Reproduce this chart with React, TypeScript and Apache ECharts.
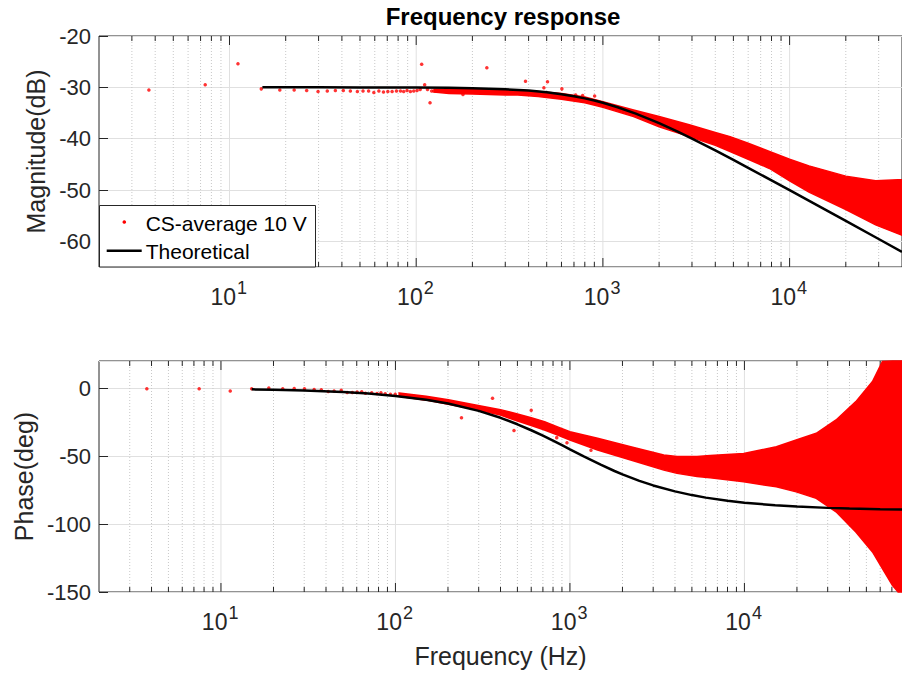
import React, { useEffect, useRef } from "react";
import * as echarts from "echarts";

const FONT = "'Liberation Sans', Arial, Helvetica, sans-serif";
const AXIS_COLOR = "#262626";
const RED = "#ff0000";
const MAJOR_GRID = "#e0e0e0";
const MINOR_GRID = "#c8c8c8";

// ---------- Magnitude (dB) ----------
const magMeasuredPoints: [number, number][] = [
  [3.7, -30.5], [7.41, -29.5], [11.1, -25.4], [14.8, -30.3], [18.6, -30.5],
  [22.2, -30.5], [25.9, -30.6], [29.8, -30.8], [33.4, -30.7], [36.9, -30.6],
  [40.7, -30.6], [44.4, -30.7], [48.4, -30.8], [51.9, -30.7], [55.6, -30.7],
  [59.3, -31.0], [63.1, -30.7], [66.8, -30.9], [70.5, -30.8], [74.3, -30.8],
  [78.4, -30.7], [82.4, -30.7], [85.7, -30.8], [89.3, -30.6], [93.1, -30.8],
  [97, -30.7], [101, -30.6], [105, -30.4], [107, -25.5], [111, -29.5],
  [115, -30.4], [118.6, -33.0], [121, -30.7], [124, -30.7], [127, -30.7],
  [178, -31.4], [239, -26.2], [385, -28.8], [483, -30.1], [505, -28.9],
  [603, -30.3], [715, -31.5], [779, -31.6], [903, -31.7],
];
const magBandFreq = [125, 150, 200, 300, 350, 450, 600, 800, 1000, 1460, 2000, 2900, 4000, 4800, 6000, 7800, 10000, 12700, 20000, 28900, 38000, 40000];
const magBandUpper = [-30.4, -30.4, -30.4, -30.5, -30.5, -30.8, -31.2, -31.9, -32.8, -34.4, -35.7, -37.3, -38.8, -39.6, -40.9, -42.5, -44.0, -45.3, -47.3, -48.2, -48.0, -48.0];
const magBandLower = [-30.9, -31.2, -31.3, -31.5, -31.5, -31.8, -32.3, -33.0, -33.9, -35.7, -37.7, -39.6, -41.3, -42.5, -44.0, -45.8, -48.2, -50.4, -53.8, -56.8, -58.5, -58.8];

// ---------- Phase (deg) ----------
const phaseMeasuredPoints: [number, number][] = [
  [3.76, -0.5], [7.5, -0.5], [11.3, -2.0], [15.0, -0.5], [18.8, 0.2],
  [22.6, -0.5], [26.3, -0.2], [30.1, -0.5], [34.2, -0.9], [37.6, -1.2],
  [41.2, -2.4], [44.5, -2.0], [48.9, -1.6], [52.9, -3.2], [56.6, -3.2],
  [60.3, -2.9], [64.1, -2.7], [67.3, -3.7], [73.1, -3.4], [78.4, -3.9],
  [82.6, -3.4], [87.4, -4.2], [93.6, -4.4], [99.7, -4.4], [239, -21.7],
  [360, -7.4], [478, -31.2], [600, -16.2], [840, -36.4], [962, -40.1],
  [1320, -45.7],
];
const phaseBandFreq = [105, 150, 201, 298, 400, 482, 600, 715, 850, 1000, 1440, 2230, 3450, 4110, 5350, 6360, 9900, 15240, 19800, 25800, 33500, 43500, 54200, 61800, 70500, 76000, 80000];
const phaseBandUpper = [-3.5, -6.0, -8.6, -12.8, -15.8, -18.4, -21.8, -24.6, -28.5, -32.0, -36.9, -43.1, -49.2, -50.3, -50.2, -49.6, -48.0, -43.1, -38.1, -33.2, -23.4, -9.9, 4.9, 19.6, 20, 20, 20];
const phaseBandLower = [-6.0, -8.8, -11.8, -16.0, -19.8, -23.4, -27.5, -30.8, -34.5, -38.1, -45.5, -52.9, -60.3, -62.7, -65.0, -65.9, -68.9, -72.6, -76.3, -81.1, -91.0, -105.8, -120.5, -132.8, -145, -150, -150];

// ---------- Theoretical ----------
const theoryFreq = [15, 20, 30, 50, 70, 100, 150, 200, 300, 400, 500, 600, 700, 800, 900, 1000, 1200, 1500, 1800, 2000, 2500, 3000, 4000, 5000, 6000, 8000, 10000, 15000, 20000, 30000, 40000, 60000, 80000];
const theoryMag = [-30.0, -30.0, -30.0, -30.01, -30.02, -30.04, -30.1, -30.17, -30.38, -30.64, -30.97, -31.34, -31.74, -32.15, -32.57, -33.01, -33.87, -35.12, -36.28, -36.99, -38.6, -40.0, -42.3, -44.15, -45.68, -48.13, -50.04, -53.53, -56.03, -59.55, -62.04];
const theoryPhase = [-0.86, -1.15, -1.72, -2.86, -4.0, -5.71, -8.53, -11.31, -16.7, -21.8, -26.57, -30.96, -34.99, -38.66, -41.99, -45.0, -50.19, -56.31, -60.95, -63.43, -68.2, -71.57, -75.96, -78.69, -80.54, -82.87, -84.29, -86.19, -87.14, -88.09, -88.57, -89.05, -89.28];

// ---------- Axes ticks ----------
const xMajorTicks = [10, 100, 1000, 10000];
const xMajorExponents = ["1", "2", "3", "4"];
const xDecades = [1, 10, 100, 1000, 10000];
const xMinorMultipliers = [2, 3, 4, 5, 6, 7, 8, 9];
const xMin = 2;
const magXMax = 40000;
const phaseXMax = 80000;

function decorSeries(idx: number, xMax: number, yMin: number, yMax: number) {
  return {
    type: "custom",
    xAxisIndex: idx,
    yAxisIndex: idx,
    z: 1,
    silent: true,
    data: [0],
    renderItem: (params: any, api: any) => {
      const children: any[] = [];
      const minor: number[] = [];
      xDecades.forEach((d) =>
        xMinorMultipliers.forEach((m) => {
          const f = d * m;
          if (f > xMin && f < xMax) minor.push(f);
        })
      );
      minor.forEach((f) => {
        const t = api.coord([f, yMax]);
        const b = api.coord([f, yMin]);
        children.push({
          type: "line",
          shape: { x1: t[0], y1: t[1], x2: b[0], y2: b[1] },
          style: { stroke: MINOR_GRID, lineWidth: 1, lineDash: [1, 2] },
        });
        children.push({
          type: "line",
          shape: { x1: b[0], y1: b[1], x2: b[0], y2: b[1] - 5 },
          style: { stroke: AXIS_COLOR, lineWidth: 1 },
        });
        children.push({
          type: "line",
          shape: { x1: t[0], y1: t[1], x2: t[0], y2: t[1] + 5 },
          style: { stroke: AXIS_COLOR, lineWidth: 1 },
        });
      });
      xMajorTicks.forEach((f, i) => {
        if (f <= xMin || f >= xMax) return;
        const t = api.coord([f, yMax]);
        const b = api.coord([f, yMin]);
        children.push({
          type: "line",
          shape: { x1: t[0], y1: t[1], x2: b[0], y2: b[1] },
          style: { stroke: MAJOR_GRID, lineWidth: 1 },
        });
        children.push({
          type: "line",
          shape: { x1: b[0], y1: b[1], x2: b[0], y2: b[1] - 9 },
          style: { stroke: AXIS_COLOR, lineWidth: 1 },
        });
        children.push({
          type: "line",
          shape: { x1: t[0], y1: t[1], x2: t[0], y2: t[1] + 9 },
          style: { stroke: AXIS_COLOR, lineWidth: 1 },
        });
        children.push({
          type: "text",
          x: b[0] + 6.5,
          y: b[1] + 30,
          style: {
            text: "10",
            fontSize: 23,
            fontFamily: FONT,
            fill: AXIS_COLOR,
            align: "right",
            verticalAlign: "middle",
          },
        });
        children.push({
          type: "text",
          x: b[0] + 7.5,
          y: b[1] + 21,
          style: {
            text: xMajorExponents[i],
            fontSize: 18,
            fontFamily: FONT,
            fill: AXIS_COLOR,
            align: "left",
            verticalAlign: "middle",
          },
        });
      });
      return { type: "group", children };
    },
  };
}

function bandSeries(idx: number, freq: number[], upper: number[], lower: number[]) {
  return {
    type: "custom",
    xAxisIndex: idx,
    yAxisIndex: idx,
    z: 2,
    silent: true,
    data: freq.map((f, i) => [f, upper[i], lower[i]]),
    renderItem: (params: any, api: any) => {
      if (params.dataIndex !== 0) return null;
      const pts: number[][] = [];
      for (let i = 0; i < freq.length; i++) pts.push(api.coord([freq[i], upper[i]]));
      for (let i = freq.length - 1; i >= 0; i--) pts.push(api.coord([freq[i], lower[i]]));
      return {
        type: "polygon",
        shape: { points: pts },
        style: { fill: RED, stroke: RED, lineWidth: 1.5 },
      };
    },
  };
}

export default function App() {
  const ref = useRef<HTMLDivElement>(null);

  useEffect(() => {
    if (!ref.current) return;
    const chart = echarts.init(ref.current, undefined, { renderer: "svg" });

    const yLabel = { fontSize: 22, color: AXIS_COLOR, fontFamily: FONT, margin: 8 };
    const yName = { fontSize: 25, color: AXIS_COLOR, fontFamily: FONT };

    chart.setOption({
      animation: false,
      backgroundColor: "#ffffff",
      title: {
        text: "Frequency response",
        left: 503,
        top: 4,
        textAlign: "center",
        padding: 0,
        textStyle: { fontSize: 24, fontWeight: "bold", color: "#000", fontFamily: FONT },
      },
      grid: [
        { left: 99, top: 36, width: 807, height: 231, show: true, borderColor: AXIS_COLOR, borderWidth: 1, backgroundColor: "#fff" },
        { left: 99, top: 361, width: 807, height: 231, show: true, borderColor: AXIS_COLOR, borderWidth: 1, backgroundColor: "#fff" },
      ],
      xAxis: [
        {
          gridIndex: 0, type: "log", logBase: 10, min: xMin, max: magXMax,
          axisLine: { show: false }, axisTick: { show: false }, axisLabel: { show: false }, splitLine: { show: false },
        },
        {
          gridIndex: 1, type: "log", logBase: 10, min: xMin, max: phaseXMax,
          axisLine: { show: false }, axisTick: { show: false }, axisLabel: { show: false }, splitLine: { show: false },
          name: "Frequency (Hz)", nameLocation: "middle", nameGap: 51,
          nameTextStyle: { fontSize: 25, color: AXIS_COLOR, fontFamily: FONT },
        },
      ],
      yAxis: [
        {
          gridIndex: 0, type: "value", min: -65, max: -20, splitNumber: 5,
          axisLine: { show: false },
          axisTick: { show: true, inside: true, length: 9, lineStyle: { color: AXIS_COLOR } },
          axisLabel: { ...yLabel, showMinLabel: false },
          splitLine: { show: true, lineStyle: { color: MAJOR_GRID, width: 1 } },
          name: "Magnitude(dB)", nameLocation: "middle", nameGap: 47, nameTextStyle: yName,
        },
        {
          gridIndex: 1, type: "value", min: -150, max: 20, interval: 50,
          axisLine: { show: false },
          axisTick: { show: true, inside: true, length: 9, lineStyle: { color: AXIS_COLOR } },
          axisLabel: { ...yLabel, showMaxLabel: false },
          splitLine: { show: true, lineStyle: { color: MAJOR_GRID, width: 1 } },
          name: "Phase(deg)", nameLocation: "middle", nameGap: 60, nameTextStyle: yName,
        },
      ],
      series: [
        decorSeries(0, magXMax, -65, -20),
        decorSeries(1, phaseXMax, -150, 20),
        bandSeries(0, magBandFreq, magBandUpper, magBandLower),
        bandSeries(1, phaseBandFreq, phaseBandUpper, phaseBandLower),
        {
          name: "CS-average 10 V", type: "scatter", xAxisIndex: 0, yAxisIndex: 0, z: 3,
          symbolSize: 3.5, itemStyle: { color: RED }, data: magMeasuredPoints,
        },
        {
          name: "CS-average 10 V", type: "scatter", xAxisIndex: 1, yAxisIndex: 1, z: 3,
          symbolSize: 3.5, itemStyle: { color: RED }, data: phaseMeasuredPoints,
        },
        {
          name: "Theoretical", type: "line", xAxisIndex: 0, yAxisIndex: 0, z: 4,
          showSymbol: false, lineStyle: { color: "#000", width: 2.5 },
          data: theoryMag.map((v, i) => [theoryFreq[i], v]),
        },
        {
          name: "Theoretical", type: "line", xAxisIndex: 1, yAxisIndex: 1, z: 4,
          showSymbol: false, lineStyle: { color: "#000", width: 2.5 },
          data: theoryPhase.map((v, i) => [theoryFreq[i], v]),
        },
      ],
      graphic: [
        {
          type: "rect", z: 100, silent: true,
          shape: { x: 99.5, y: 205.5, width: 216, height: 61.5 },
          style: { fill: "#fff", stroke: AXIS_COLOR, lineWidth: 1 },
        },
        {
          type: "circle", z: 101, silent: true,
          shape: { cx: 124.3, cy: 222, r: 1.8 },
          style: { fill: RED },
        },
        {
          type: "line", z: 101, silent: true,
          shape: { x1: 106.7, y1: 250.7, x2: 141.7, y2: 250.7 },
          style: { stroke: "#000", lineWidth: 2.5 },
        },
        {
          type: "text", z: 101, silent: true, x: 145.7, y: 223,
          style: { text: "CS-average 10 V", fontSize: 21, fontFamily: FONT, fill: "#000", verticalAlign: "middle" },
        },
        {
          type: "text", z: 101, silent: true, x: 145.7, y: 251.3,
          style: { text: "Theoretical", fontSize: 21, fontFamily: FONT, fill: "#000", verticalAlign: "middle" },
        },
      ],
    });

    return () => chart.dispose();
  }, []);

  return (
    <div
      ref={ref}
      style={{ position: "fixed", left: 0, top: 0, width: 902, height: 675, background: "#fff" }}
    />
  );
}
